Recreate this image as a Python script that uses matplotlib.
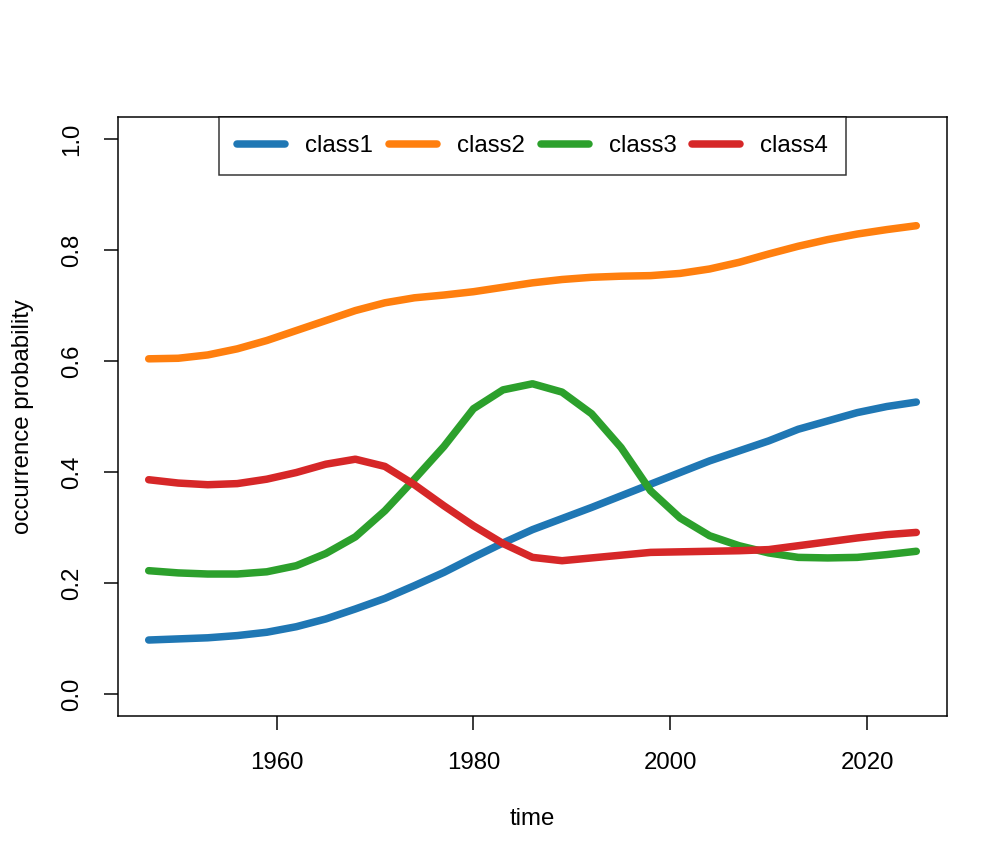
import matplotlib
matplotlib.use("Agg")
import matplotlib.pyplot as plt

plt.rcParams['font.family'] = ['Liberation Sans', 'DejaVu Sans']

years = [1947, 1950, 1953, 1956, 1959, 1962, 1965, 1968, 1971, 1974, 1977, 1980, 1983, 1986,
         1989, 1992, 1995, 1998, 2001, 2004, 2007, 2010, 2013, 2016, 2019, 2022, 2025]
class1 = [0.097, 0.099, 0.101, 0.105, 0.111, 0.121, 0.135, 0.153, 0.172, 0.195, 0.219, 0.246, 0.272, 0.296,
          0.316, 0.336, 0.357, 0.378, 0.399, 0.420, 0.438, 0.456, 0.477, 0.492, 0.507, 0.518, 0.526]
class2 = [0.604, 0.605, 0.611, 0.622, 0.637, 0.655, 0.673, 0.691, 0.705, 0.714, 0.719, 0.725, 0.733, 0.741,
          0.747, 0.751, 0.753, 0.754, 0.758, 0.766, 0.778, 0.793, 0.807, 0.819, 0.829, 0.837, 0.844]
class3 = [0.222, 0.218, 0.216, 0.216, 0.220, 0.231, 0.253, 0.283, 0.330, 0.387, 0.446, 0.514, 0.548, 0.559,
          0.544, 0.505, 0.444, 0.366, 0.317, 0.285, 0.267, 0.254, 0.246, 0.245, 0.246, 0.251, 0.257]
class4 = [0.386, 0.380, 0.377, 0.379, 0.387, 0.399, 0.414, 0.423, 0.410, 0.377, 0.339, 0.303, 0.271, 0.246,
          0.240, 0.245, 0.250, 0.255, 0.256, 0.257, 0.258, 0.260, 0.267, 0.274, 0.281, 0.287, 0.291]

series_names = ["class1", "class2", "class3", "class4"]
series_colors = ["#1f77b4", "#ff7f0e", "#2ca02c", "#d62728"]
x_ticks = [1960, 1980, 2000, 2020]
y_ticks = [0.0, 0.2, 0.4, 0.6, 0.8, 1.0]
y_tick_labels = ["0.0", "0.2", "0.4", "0.6", "0.8", "1.0"]

fig = plt.figure(figsize=(7, 6), dpi=144)
ax = fig.add_axes([118/1008, 1 - 716/864, (947-118)/1008, (716-117)/864])

for vals, name, col in zip([class1, class2, class3, class4], series_names, series_colors):
    ax.plot(years, vals, color=col, lw=3.75, label=name,
            solid_capstyle='round', solid_joinstyle='round')

span = years[-1] - years[0]
ax.set_xlim(years[0] - 0.04*span, years[-1] + 0.04*span)
ax.set_ylim(-0.04, 1.04)
ax.set_xticks(x_ticks)
ax.set_xticklabels([str(t) for t in x_ticks])
ax.set_yticks(y_ticks)
ax.set_yticklabels(y_tick_labels, rotation=90, va='center')

for s in ax.spines.values():
    s.set_linewidth(0.75)
ax.tick_params(axis='both', length=7.2, width=0.75, labelsize=12, direction='out')
ax.tick_params(axis='x', pad=11)
ax.tick_params(axis='y', pad=10)

ax.set_xlabel("time", fontsize=12, labelpad=17)
ax.set_ylabel("occurrence probability", fontsize=12, labelpad=14)

leg = ax.legend(loc='upper center', ncol=4, frameon=True, fontsize=12,
                bbox_to_anchor=(0.5, 1.0), handlelength=2.0, handletextpad=0.83,
                columnspacing=0.67, borderpad=0.75, fancybox=False, borderaxespad=0)
leg.get_frame().set_edgecolor('black')
leg.get_frame().set_linewidth(0.75)

fig.savefig("out.png", dpi=144, facecolor='white')
